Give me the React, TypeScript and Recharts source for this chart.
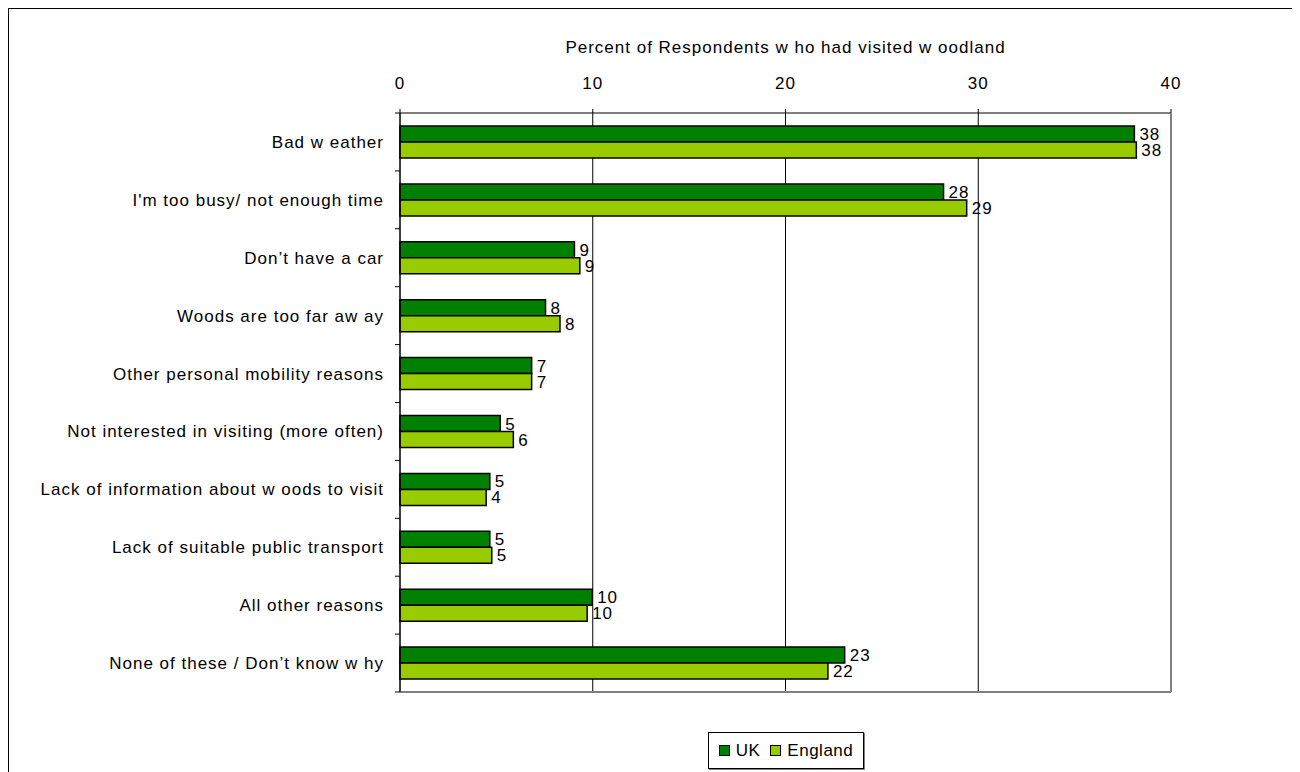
import React from 'react';
import {
    BarChart,
    Bar,
    XAxis,
    YAxis,
    CartesianGrid,
    LabelList
} from 'recharts';

const categories = [
    'Bad w eather',
    "I'm too busy/ not enough time",
    'Don\u2019t have a car',
    'Woods are too far aw ay',
    'Other personal mobility reasons',
    'Not interested in visiting (more often)',
    'Lack of information about w oods to visit',
    'Lack of suitable public transport',
    'All other reasons',
    'None of these / Don\u2019t know  w hy'
];

const ukValues = [38.1, 28.2, 9.05, 7.55, 6.83, 5.2, 4.66, 4.66, 9.97, 23.07];
const englandValues = [38.2, 29.4, 9.33, 8.3, 6.83, 5.88, 4.47, 4.76, 9.71, 22.2];

const xTicks = [0, 10, 20, 30, 40];

const FONT = '"Liberation Sans", Arial, sans-serif';
const UK_COLOR = '#008000';
const ENGLAND_COLOR = '#99cc00';
const textStyle = { fill: '#000', fontSize: 17, fontFamily: FONT, letterSpacing: 1 };

const CHART_W = 1283;
const CHART_H = 763;
const MARGIN = { top: 74, right: 120, bottom: 79, left: 11 };
const X_AXIS_H = 30;
const FRAME_AXIS_H = 1;
const HALF_BAND = (CHART_H - MARGIN.top - MARGIN.bottom - X_AXIS_H - FRAME_AXIS_H) / categories.length / 2;

const data = categories.map((name, i) => ({
    name,
    UK: ukValues[i],
    England: englandValues[i]
}));

// category label plus the little tick marks Excel puts between categories
const CategoryTick = (props: any) => {
    const { x, y, payload, index } = props;
    return (
        <g>
            {index === 0 && <line x1={x - 5} x2={x} y1={y - HALF_BAND} y2={y - HALF_BAND} stroke="#000" />}
            <line x1={x - 5} x2={x} y1={y + HALF_BAND} y2={y + HALF_BAND} stroke="#000" />
            <text x={x - 16} y={y} dy="0.35em" textAnchor="end" {...textStyle}>
                {payload.value}
            </text>
        </g>
    );
};

const LegendBox: React.FC = () => (
    <div
        style={{
            position: 'absolute',
            left: 699,
            top: 723,
            width: 154,
            height: 35,
            border: '1px solid #000',
            boxShadow: '1px 1px 0 #808080',
            background: '#fff',
            display: 'flex',
            alignItems: 'center',
            justifyContent: 'center',
            fontFamily: FONT,
            fontSize: 17,
            letterSpacing: 0.5,
            gap: 6
        }}
    >
        <span style={{ width: 9, height: 9, background: UK_COLOR, border: '1.5px solid #000' }} />
        <span style={{ marginRight: 4 }}>UK</span>
        <span style={{ width: 9, height: 9, background: ENGLAND_COLOR, border: '1.5px solid #000' }} />
        <span>England</span>
    </div>
);

export default function App() {
    return (
        <div
            style={{
                position: 'relative',
                width: CHART_W,
                height: CHART_H,
                borderTop: '1px solid #000',
                borderLeft: '1px solid #000',
                fontFamily: FONT
            }}
        >
            <style>{'html, body { overflow: hidden; }'}</style>
            <BarChart
                width={CHART_W}
                height={CHART_H}
                data={data}
                layout="vertical"
                margin={MARGIN}
                barGap={0}
                barSize={16}
            >
                <CartesianGrid horizontal={false} stroke="#000" strokeWidth={1} xAxisId="x" yAxisId="cat" />
                <XAxis
                    xAxisId="x"
                    type="number"
                    orientation="top"
                    domain={[0, 40]}
                    ticks={xTicks}
                    height={X_AXIS_H}
                    axisLine={{ stroke: '#000' }}
                    tickLine={{ stroke: '#000' }}
                    tickSize={4}
                    tickMargin={20}
                    tick={textStyle}
                    label={{
                        value: 'Percent of Respondents w ho had visited w oodland',
                        position: 'top',
                        offset: 30,
                        ...textStyle
                    }}
                />
                <XAxis
                    xAxisId="frame"
                    type="number"
                    orientation="bottom"
                    domain={[0, 40]}
                    height={FRAME_AXIS_H}
                    axisLine={{ stroke: '#808080', strokeWidth: 2 }}
                    tickLine={false}
                    tick={false}
                />
                <YAxis
                    yAxisId="cat"
                    type="category"
                    dataKey="name"
                    width={380}
                    axisLine={{ stroke: '#000' }}
                    tickLine={false}
                    tickSize={0}
                    tickMargin={0}
                    interval={0}
                    tick={<CategoryTick />}
                />
                <YAxis
                    yAxisId="frameRight"
                    type="number"
                    orientation="right"
                    domain={[0, 10]}
                    width={1}
                    axisLine={{ stroke: '#808080', strokeWidth: 2 }}
                    tickLine={false}
                    tick={false}
                />
                <Bar
                    dataKey="UK"
                    xAxisId="x"
                    yAxisId="cat"
                    fill={UK_COLOR}
                    stroke="#000"
                    strokeWidth={1.5}
                    isAnimationActive={false}
                >
                    <LabelList
                        dataKey="UK"
                        position="right"
                        offset={5}
                        formatter={(v: any) => Math.round(Number(v))}
                        style={textStyle}
                    />
                </Bar>
                <Bar
                    dataKey="England"
                    xAxisId="x"
                    yAxisId="cat"
                    fill={ENGLAND_COLOR}
                    stroke="#000"
                    strokeWidth={1.5}
                    isAnimationActive={false}
                >
                    <LabelList
                        dataKey="England"
                        position="right"
                        offset={5}
                        formatter={(v: any) => Math.round(Number(v))}
                        style={textStyle}
                    />
                </Bar>
            </BarChart>
            <LegendBox />
        </div>
    );
}
